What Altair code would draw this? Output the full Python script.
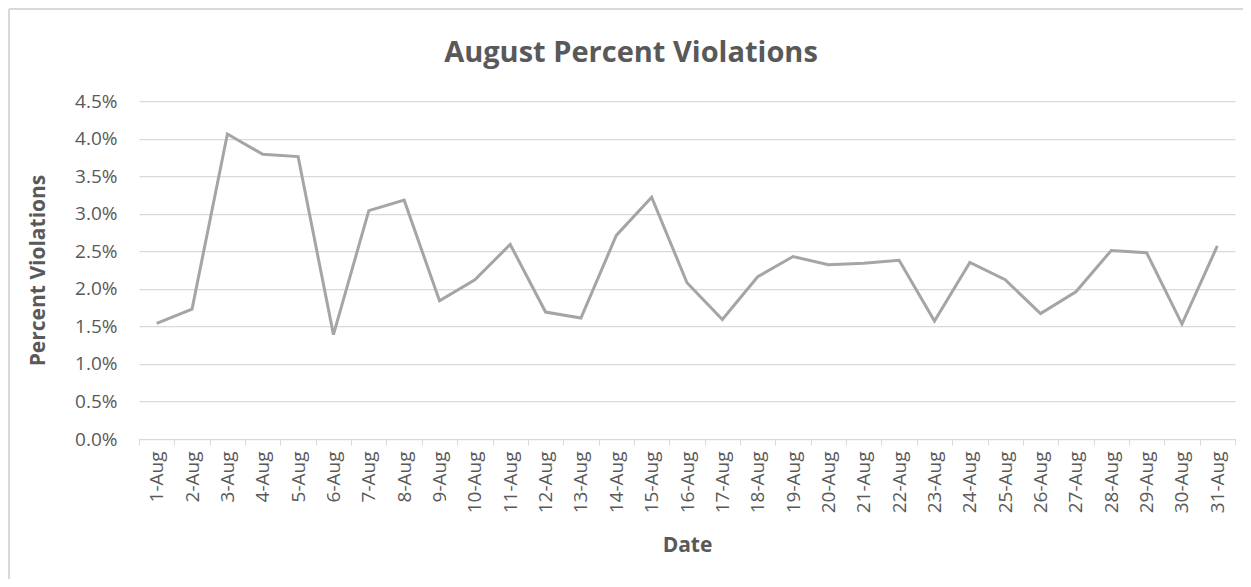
import altair as alt
import pandas as pd

dates = [f"{d}-Aug" for d in range(1, 32)]
pct = [1.54, 1.73, 4.06, 3.79, 3.76, 1.39, 3.04, 3.18, 1.84, 2.12,
       2.59, 1.69, 1.61, 2.71, 3.22, 2.08, 1.59, 2.16, 2.43, 2.32,
       2.34, 2.38, 1.57, 2.35, 2.12, 1.67, 1.96, 2.51, 2.48, 1.53, 2.57]
y_ticks = [0, 0.005, 0.01, 0.015, 0.02, 0.025, 0.03, 0.035, 0.04, 0.045]

df = pd.DataFrame({"Date": dates, "Violations": [v / 100 for v in pct]})

FONT = "Open Sans"
TXT = "#595959"
GRID = "#d9d9d9"

line = alt.Chart(df).mark_line(color="#a5a5a5", strokeWidth=3).encode(
    x=alt.X(
        "Date:N",
        sort=dates,
        bandPosition=0.5,
        scale=alt.Scale(type="band", paddingInner=0, paddingOuter=0),
        axis=alt.Axis(
            title="Date",
            labelAngle=-90,
            tickBand="extent",
            ticks=True,
            tickSize=6,
            tickColor=GRID,
            domainColor=GRID,
            labelPadding=6,
            labelFontSize=19,
            labelColor=TXT,
            labelFont=FONT,
            titleFont=FONT,
            titleFontSize=21,
            titleFontWeight="bold",
            titleColor=TXT,
            titlePadding=22,
            grid=False,
        ),
    ),
    y=alt.Y(
        "Violations:Q",
        scale=alt.Scale(domain=[0, 0.045], nice=False),
        axis=alt.Axis(
            title="Percent Violations",
            values=y_ticks,
            format=".1%",
            ticks=False,
            domain=False,
            grid=True,
            gridColor=GRID,
            gridWidth=1.25,
            labelPadding=22,
            labelFontSize=19,
            labelColor=TXT,
            labelFont=FONT,
            titleFont=FONT,
            titleFontSize=21,
            titleFontWeight="bold",
            titleColor=TXT,
            titlePadding=26,
        ),
    ),
)

frame_left = alt.Chart(df).mark_rule(color=GRID, strokeWidth=1.5).encode(
    x=alt.value(-130), y=alt.value(-92), y2=alt.value(600)
)
frame_top = alt.Chart(df).mark_rule(color=GRID, strokeWidth=1.5).encode(
    x=alt.value(-130), x2=alt.value(1200), y=alt.value(-92)
)

chart = (
    alt.layer(frame_left, frame_top, line)
    .properties(
        width=1096,
        height=338,
        padding={"left": 131, "top": 93, "right": 8, "bottom": 140},
        autosize=alt.AutoSizeParams(type="none"),
        title=alt.TitleParams(
            "August Percent Violations",
            font=FONT,
            fontSize=29,
            fontWeight="bold",
            color=TXT,
            anchor="middle",
            frame="group",
            baseline="alphabetic",
            dx=-56,
            offset=-83,
        ),
    )
    .configure_view(stroke=None)
)

chart.save("out.html", embed_options={"renderer": "svg", "actions": False})
